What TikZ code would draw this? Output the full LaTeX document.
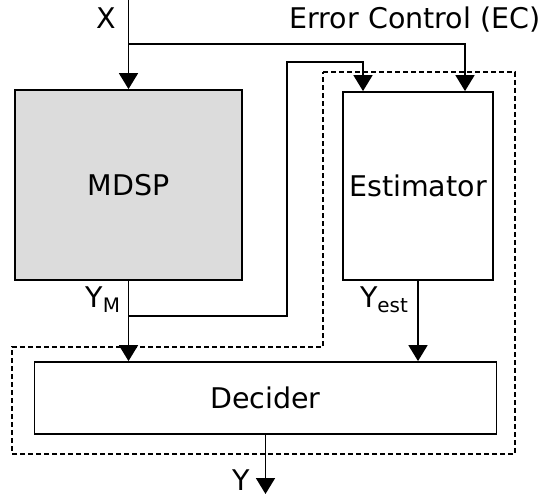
\documentclass[tikz,border=0pt]{standalone}
\usepackage{fontspec}
\setmainfont{DejaVu Sans}
\usetikzlibrary{arrows.meta}
\tikzset{block/.style={draw, line width=1.8pt, inner sep=0pt, anchor=center},
	wire/.style={line width=1.8pt},
	feed/.style={wire, -{Triangle[width=19pt,length=16pt]}}}

\begin{document}
\begin{tikzpicture}[x=1pt, y=-1pt, font=\fontsize{28.5}{34}\selectfont,
	group/.style={draw, line width=1.4pt, dash pattern=on 5pt off 3pt}]
	\useasboundingbox (0,0) rectangle (544,500);

	% blocks
	\node[block, fill={rgb,255:red,220;green,220;blue,220},
		minimum width=227pt, minimum height=190pt] (mdsp) at (128.5,185) {MDSP};
	\node[block, minimum width=150pt, minimum height=188pt] (est) at (418,186) {Estimator};
	\node[block, minimum width=462pt, minimum height=72pt] (dec) at (265.5,398) {Decider};

	% dashed group round estimator and decider
	\draw[group] (323,72) -- (515,72) -- (515,454) -- (12,454) -- (12,347) -- (323,347) -- cycle;

	% input and error control
	\coordinate (xin) at (128.5,0);
	\coordinate (ec) at (128.5,44);
	\node[anchor=base east] (xlab) at (120,29) {X};
	\node[anchor=base] (eclab) at (415,29) {Error Control (EC)};
	\draw[feed] (xin) -- (mdsp.north);
	\draw[feed] (ec) -| ([xshift=47pt]est.north);

	% outputs
	\coordinate (ym) at (128.5,316);
	\node[anchor=base east] (ymlab) at (124,307) {Y\textsubscript{M}};
	\node[anchor=base east] (yestlab) at (412,307) {Y\textsubscript{est}};
	\draw[feed] (mdsp.south) -- (mdsp.south |- dec.north);
	\draw[feed] (ym) -- (287,316) -- (287,62) -| ([xshift=-55pt]est.north);
	\draw[feed] (est.south) -- (est.south |- dec.north);

	\coordinate (yout) at (265.5,494);
	\node[anchor=base east] (ylab) at (253,490) {Y};
	\draw[feed] (dec.south) -- (yout);
\end{tikzpicture}
\end{document}
